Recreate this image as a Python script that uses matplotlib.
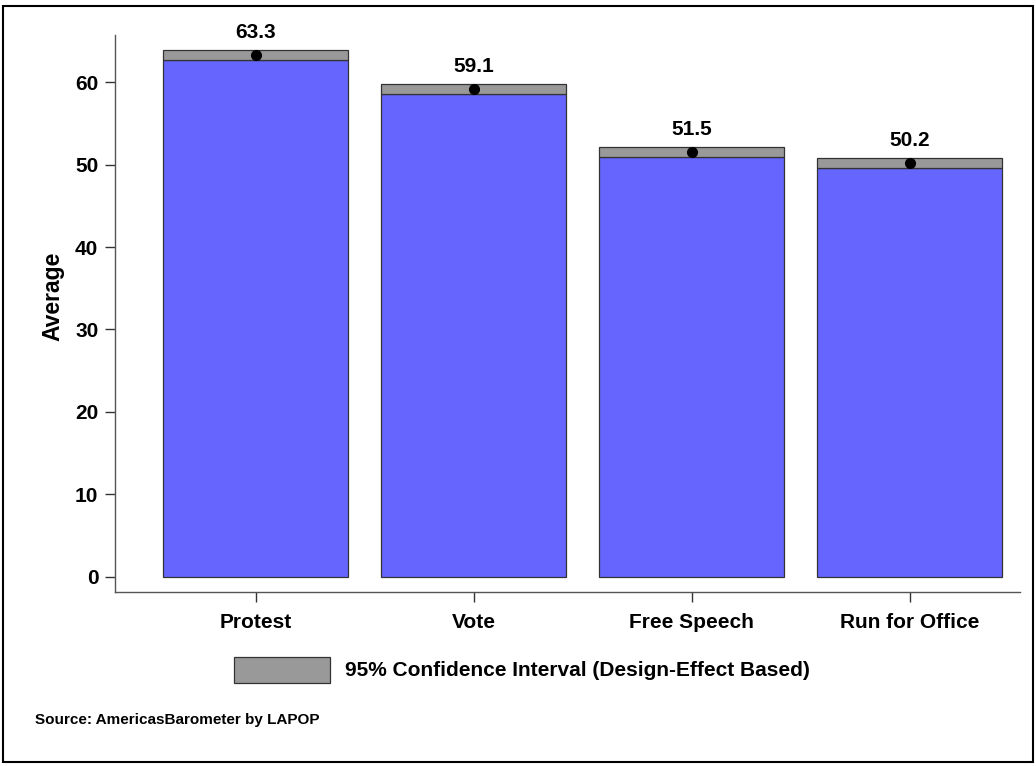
import matplotlib.pyplot as plt
from matplotlib.patches import Rectangle

categories = ['Protest', 'Vote', 'Free Speech', 'Run for Office']
means = [63.3, 59.1, 51.5, 50.2]
ci_low = [62.7, 58.5, 50.9, 49.6]
ci_high = [63.9, 59.7, 52.1, 50.8]

plt.rcParams['font.family'] = ['Liberation Sans', 'DejaVu Sans']
plt.rcParams['font.weight'] = 'bold'

fig = plt.figure(figsize=(10.36, 7.66), dpi=100)
ax = fig.add_axes([0.111, 0.2272, 0.8736, 0.7271])

x = range(len(categories))
blue = '#6666ff'
gray = '#999999'
edge = '#333333'

ax.bar(x, ci_low, width=0.85, color=blue, edgecolor=edge, linewidth=0.9)
ax.bar(x, [h - l for l, h in zip(ci_low, ci_high)], bottom=ci_low, width=0.85,
       color=gray, edgecolor=edge, linewidth=0.9)
ax.plot(x, means, 'o', color='black', markersize=7)
for i, m in enumerate(means):
    ax.text(i, ci_high[i] + 1.0, f'{m:.1f}', ha='center', va='bottom',
            fontsize=15, fontweight='bold')

ax.set_xlim(-0.646, 3.506)
ax.set_ylim(-1.82, 65.7)
ax.set_yticks([0, 10, 20, 30, 40, 50, 60])
ax.set_xticks(list(x))
ax.set_xticklabels(categories)
ax.set_ylabel('Average', fontsize=16.5, fontweight='bold')
ax.yaxis.set_label_coords(-0.056, 0.531)

for s in ['top', 'right']:
    ax.spines[s].set_visible(False)
for s in ['left', 'bottom']:
    ax.spines[s].set_color('#555555')
    ax.spines[s].set_linewidth(1.0)
ax.tick_params(axis='both', direction='out', length=7, width=1,
               color='#333333', labelsize=15)
ax.tick_params(axis='x', pad=8)
ax.tick_params(axis='y', pad=5)
for lab in ax.get_xticklabels() + ax.get_yticklabels():
    lab.set_fontweight('bold')

# legend
fig.patches.append(Rectangle((234 / 1036, 1 - 683 / 766), 96 / 1036, 26 / 766,
                             transform=fig.transFigure, facecolor=gray,
                             edgecolor=edge, linewidth=0.9))
fig.text(345 / 1036, 1 - 670 / 766, '95% Confidence Interval (Design-Effect Based)',
         va='center', ha='left', fontsize=15, fontweight='bold')
fig.text(35 / 1036, 1 - 720 / 766, 'Source: AmericasBarometer by LAPOP',
         va='center', ha='left', fontsize=11, fontweight='bold')

# outer frame
fig.patches.append(Rectangle((3 / 1036, 4 / 766), 1030 / 1036, 756 / 766,
                             transform=fig.transFigure, fill=False,
                             edgecolor='black', linewidth=1.5))

fig.savefig('out.png', dpi=100)
